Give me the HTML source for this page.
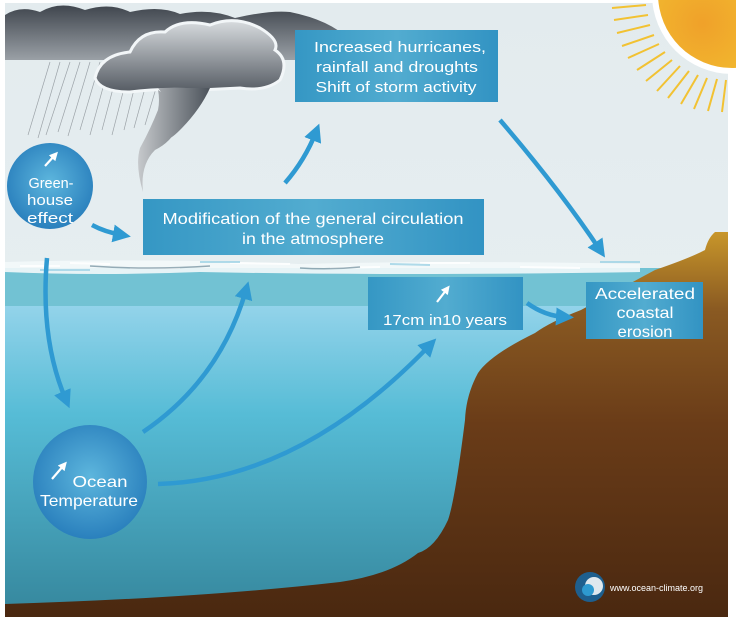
<!DOCTYPE html>
<html><head><meta charset="utf-8"><style>
html,body{margin:0;padding:0;background:#fff;}
svg{display:block;}
text{font-family:"Liberation Sans",sans-serif;fill:#fff;}
</style></head><body>
<svg width="736" height="622" viewBox="0 0 736 622" xmlns="http://www.w3.org/2000/svg">
<defs>
<linearGradient id="sky" x1="0" y1="0" x2="0" y2="1"><stop offset="0" stop-color="#e3ebee"/><stop offset="1" stop-color="#e9f1f3"/></linearGradient>
<linearGradient id="deep" x1="0" y1="0" x2="0" y2="1"><stop offset="0" stop-color="#93d3ea"/><stop offset="0.35" stop-color="#56bcd6"/><stop offset="1" stop-color="#35869c"/></linearGradient>
<linearGradient id="land" x1="0" y1="0" x2="0" y2="1"><stop offset="0" stop-color="#c8962a"/><stop offset="0.2" stop-color="#8a5a22"/><stop offset="0.5" stop-color="#6a3c18"/><stop offset="1" stop-color="#4a2810"/></linearGradient>
<linearGradient id="box" x1="0" y1="0" x2="1" y2="0"><stop offset="0" stop-color="#3597c4"/><stop offset="0.5" stop-color="#52acd0"/><stop offset="1" stop-color="#3293c3"/></linearGradient>
<radialGradient id="circ" cx="0.5" cy="0.45" r="0.55"><stop offset="0" stop-color="#5db6dd"/><stop offset="1" stop-color="#2a80bd"/></radialGradient>
<radialGradient id="sun" cx="0.3" cy="0.7" r="0.8"><stop offset="0" stop-color="#f0a12a"/><stop offset="1" stop-color="#f3cd33"/></radialGradient>
<linearGradient id="cloud" x1="0" y1="0" x2="0" y2="1"><stop offset="0" stop-color="#d8dcdf"/><stop offset="1" stop-color="#555b63"/></linearGradient>
<linearGradient id="cloud2" x1="0" y1="0" x2="0" y2="1"><stop offset="0" stop-color="#40464e"/><stop offset="1" stop-color="#9aa0a6"/></linearGradient>
<linearGradient id="twist" x1="0" y1="0" x2="1" y2="0"><stop offset="0" stop-color="#c6c9cc"/><stop offset="1" stop-color="#4b525a"/></linearGradient>
<marker id="ah" markerWidth="4" markerHeight="4" refX="2" refY="2" orient="auto" markerUnits="strokeWidth"><path d="M0,0 L4,2 L0,4 z" fill="#2f9ad2"/></marker>
<marker id="wh" markerWidth="4" markerHeight="4" refX="2" refY="2" orient="auto" markerUnits="strokeWidth"><path d="M0,0 L4,2 L0,4 z" fill="#fff"/></marker>
</defs>
<rect x="5" y="3" width="723" height="614" fill="url(#sky)"/>
<!-- sun -->
<g stroke="#f2c232" stroke-width="2">
<line x1="646" y1="5" x2="612" y2="8"/><line x1="648" y1="15" x2="614" y2="20"/><line x1="650" y1="25" x2="617" y2="33"/><line x1="654" y1="35" x2="622" y2="46"/><line x1="659" y1="44" x2="628" y2="58"/><line x1="665" y1="52" x2="637" y2="70"/><line x1="672" y1="60" x2="646" y2="81"/><line x1="680" y1="66" x2="657" y2="91"/><line x1="689" y1="71" x2="668" y2="98"/><line x1="698" y1="75" x2="681" y2="104"/><line x1="707" y1="78" x2="694" y2="109"/><line x1="717" y1="79" x2="708" y2="111"/><line x1="726" y1="80" x2="722" y2="112"/>
</g>
<circle cx="732" cy="-6" r="80" fill="#fff"/>
<circle cx="732" cy="-6" r="74" fill="url(#sun)"/>
<!-- clouds -->
<path d="M5,55 L5,15 Q20,5 40,12 Q60,0 85,10 Q110,2 130,12 Q160,5 180,14 Q210,8 235,18 Q270,10 290,12 Q330,20 350,40 Q330,55 300,60 L5,60 Z" fill="url(#cloud2)"/>
<g stroke="#8a9096" stroke-width="0.7" opacity="0.8">
<line x1="50" y1="62" x2="28" y2="135"/><line x1="60" y1="62" x2="38" y2="138"/><line x1="70" y1="62" x2="46" y2="135"/><line x1="80" y1="62" x2="58" y2="132"/><line x1="90" y1="62" x2="68" y2="136"/><line x1="100" y1="62" x2="80" y2="130"/><line x1="110" y1="62" x2="90" y2="135"/><line x1="120" y1="62" x2="102" y2="130"/><line x1="130" y1="65" x2="112" y2="135"/><line x1="140" y1="65" x2="124" y2="130"/><line x1="150" y1="70" x2="134" y2="128"/><line x1="160" y1="75" x2="145" y2="125"/>
</g>
<path d="M95,78 Q100,55 130,52 Q140,30 165,32 Q180,18 210,25 Q235,15 260,28 Q280,40 275,50 Q290,60 280,80 Q265,92 240,88 L200,90 Q160,88 130,92 Q100,92 95,78 Z" fill="url(#cloud)" stroke="#f2f6f8" stroke-width="3"/>
<path d="M158,90 Q175,100 180,120 Q175,140 155,150 Q140,165 143,192 Q135,165 140,148 Q150,130 158,110 Q160,100 158,90 Z M158,88 L210,88 Q200,110 180,130 Q170,140 165,140 Q180,115 158,88 Z" fill="url(#twist)"/>
<!-- water -->
<rect x="5" y="268" width="723" height="40" fill="#72c2d3"/>
<path d="M5,306 L728,306 L728,617 L5,617 Z" fill="url(#deep)"/>
<path d="M5,262 Q150,258 300,264 Q450,260 640,264 L640,272 Q400,276 200,272 Q100,276 5,272 Z" fill="#f3f8fa" opacity="0.9"/>
<g stroke="#fff" stroke-width="2" opacity="0.9">
<line x1="20" y1="266" x2="60" y2="266"/><line x1="70" y1="263" x2="110" y2="264"/><line x1="130" y1="268" x2="180" y2="268"/><line x1="230" y1="263" x2="290" y2="264"/><line x1="330" y1="268" x2="380" y2="267"/><line x1="420" y1="263" x2="470" y2="263"/><line x1="520" y1="267" x2="580" y2="268"/>
</g>
<g stroke="#9fd3e6" stroke-width="2" opacity="0.8">
<line x1="40" y1="270" x2="90" y2="270"/><line x1="200" y1="262" x2="240" y2="262"/><line x1="390" y1="264" x2="430" y2="265"/><line x1="600" y1="262" x2="640" y2="262"/>
</g>
<path d="M90,266 Q150,270 210,266 M300,268 Q330,270 360,267" stroke="#557888" stroke-width="1.5" fill="none" opacity="0.6"/>
<!-- land -->
<path d="M728,232 L715,232 Q708,238 705,250 Q690,258 655,270 L581,310 Q550,322 535,333 Q490,355 478,373 Q466,395 465,420 Q455,500 448,520 Q435,548 418,553 Q390,575 340,582 Q200,598 5,604 L5,617 L728,617 Z" fill="url(#land)"/>
<!-- boxes -->
<rect x="295" y="30" width="203" height="72" fill="url(#box)"/>
<text x="400" y="52" font-size="15" text-anchor="middle" textLength="172" lengthAdjust="spacingAndGlyphs">Increased hurricanes,</text>
<text x="397" y="72" font-size="15" text-anchor="middle" textLength="162" lengthAdjust="spacingAndGlyphs">rainfall and droughts</text>
<text x="396" y="92" font-size="15" text-anchor="middle" textLength="161" lengthAdjust="spacingAndGlyphs">Shift of storm activity</text>
<rect x="143" y="199" width="341" height="56" fill="url(#box)"/>
<text x="313" y="224" font-size="16" text-anchor="middle" textLength="301" lengthAdjust="spacingAndGlyphs">Modification of the general circulation</text>
<text x="313" y="244" font-size="16" text-anchor="middle" textLength="142" lengthAdjust="spacingAndGlyphs">in the atmosphere</text>
<rect x="368" y="277" width="155" height="53" fill="url(#box)"/>
<text x="445" y="325" font-size="15" text-anchor="middle" textLength="124" lengthAdjust="spacingAndGlyphs">17cm in10 years</text>
<line x1="437" y1="302" x2="447" y2="289" stroke="#fff" stroke-width="2.2" marker-end="url(#wh)"/>
<rect x="586" y="282" width="117" height="57" fill="url(#box)"/>
<text x="645" y="299" font-size="16" text-anchor="middle" textLength="100" lengthAdjust="spacingAndGlyphs">Accelerated</text>
<text x="645" y="318" font-size="16" text-anchor="middle" textLength="57" lengthAdjust="spacingAndGlyphs">coastal</text>
<text x="645" y="337" font-size="16" text-anchor="middle" textLength="55" lengthAdjust="spacingAndGlyphs">erosion</text>
<!-- circles -->
<circle cx="50" cy="186" r="43" fill="url(#circ)"/>
<line x1="45" y1="166" x2="55" y2="155" stroke="#fff" stroke-width="2.2" marker-end="url(#wh)"/>
<text x="51" y="188" font-size="15" text-anchor="middle" textLength="45" lengthAdjust="spacingAndGlyphs">Green-</text>
<text x="50" y="205" font-size="15" text-anchor="middle" textLength="46" lengthAdjust="spacingAndGlyphs">house</text>
<text x="50" y="223" font-size="15" text-anchor="middle" textLength="46" lengthAdjust="spacingAndGlyphs">effect</text>
<circle cx="90" cy="482" r="57" fill="url(#circ)"/>
<line x1="52" y1="479" x2="64" y2="465" stroke="#fff" stroke-width="2.2" marker-end="url(#wh)"/>
<text x="100" y="487" font-size="16" text-anchor="middle" textLength="55" lengthAdjust="spacingAndGlyphs">Ocean</text>
<text x="89" y="506" font-size="16" text-anchor="middle" textLength="98" lengthAdjust="spacingAndGlyphs">Temperature</text>
<!-- arrows -->
<g stroke="#2f9ad2" stroke-width="4.5" fill="none">
<path d="M92,225 Q105,232 122,235" marker-end="url(#ah)"/>
<path d="M47,258 Q40,340 66,400" marker-end="url(#ah)"/>
<path d="M143,432 Q220,380 246,290" marker-end="url(#ah)"/>
<path d="M158,484 Q300,480 430,345" marker-end="url(#ah)"/>
<path d="M285,183 Q305,160 316,132" marker-end="url(#ah)"/>
<path d="M500,120 Q560,190 600,250" marker-end="url(#ah)"/>
<path d="M527,303 Q545,316 565,317" marker-end="url(#ah)"/>
</g>
<!-- logo -->
<circle cx="590" cy="587" r="15" fill="#1e5f8e"/>
<circle cx="594" cy="586" r="9" fill="#dfe8ee"/>
<circle cx="588" cy="590" r="6" fill="#2e9ad0"/>
<text x="610" y="591" font-size="9">www.ocean-climate.org</text>
</svg>
</body></html>
